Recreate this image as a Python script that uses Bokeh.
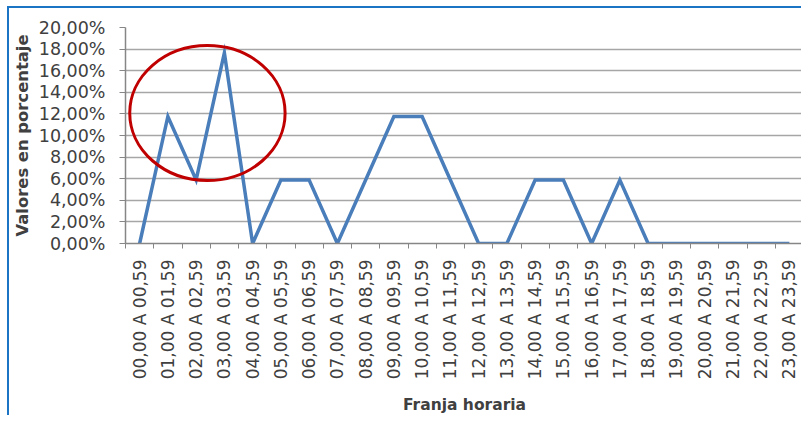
import math
from bokeh.plotting import figure
from bokeh.models import FixedTicker, Range1d
from bokeh.embed import file_html
from bokeh.resources import INLINE

categories = ["00,00 A 00,59", "01,00 A 01,59", "02,00 A 02,59", "03,00 A 03,59",
              "04,00 A 04,59", "05,00 A 05,59", "06,00 A 06,59", "07,00 A 07,59",
              "08,00 A 08,59", "09,00 A 09,59", "10,00 A 10,59", "11,00 A 11,59",
              "12,00 A 12,59", "13,00 A 13,59", "14,00 A 14,59", "15,00 A 15,59",
              "16,00 A 16,59", "17,00 A 17,59", "18,00 A 18,59", "19,00 A 19,59",
              "20,00 A 20,59", "21,00 A 21,59", "22,00 A 22,59", "23,00 A 23,59"]
values = [0.0, 0.1176, 0.0588, 0.1765, 0.0, 0.0588, 0.0588, 0.0, 0.0588, 0.1176,
          0.1176, 0.0588, 0.0, 0.0, 0.0588, 0.0588, 0.0, 0.0588, 0.0, 0.0, 0.0,
          0.0, 0.0, 0.0]
y_ticks = [0.0, 0.02, 0.04, 0.06, 0.08, 0.10, 0.12, 0.14, 0.16, 0.18, 0.20]
y_tick_labels = ["0,00%", "2,00%", "4,00%", "6,00%", "8,00%", "10,00%", "12,00%",
                 "14,00%", "16,00%", "18,00%", "20,00%"]
# highlight ellipse (around hours 01-03)
ellipse_x = [2.4]
ellipse_y = [0.1208]
ellipse_w = [5.5]
ellipse_h = [0.125]

xs = list(range(len(categories)))
FONT = "DejaVu Sans"
TEXT = "#404040"
BORDER = "#1B75C4"

p = figure(width=794, height=409, output_backend="svg", toolbar_location=None,
           x_range=Range1d(-0.5, len(categories) - 0.5), y_range=Range1d(0, 0.20),
           min_border_left=115, min_border_right=0, min_border_top=19,
           min_border_bottom=172)
p.styles = {"border-left": f"2px solid {BORDER}", "border-top": f"2px solid {BORDER}",
            "margin-left": "7px", "margin-top": "6px"}
p.outline_line_color = None
p.background_fill_color = "white"
p.border_fill_color = "white"

p.line(xs, values, line_color="#4A7EBB", line_width=3.5, line_join="miter")
p.ellipse(x=ellipse_x, y=ellipse_y, width=ellipse_w, height=ellipse_h,
          fill_color=None, line_color="#C00000", line_width=3)

# x axis
xa = p.xaxis[0]
xa.ticker = FixedTicker(ticks=xs, minor_ticks=[i - 0.5 for i in range(len(categories) + 1)])
xa.major_label_overrides = {i: c for i, c in enumerate(categories)}
xa.major_label_orientation = math.pi / 2
xa.major_tick_line_color = None
xa.minor_tick_line_color = "#868686"
xa.minor_tick_in = 0
xa.minor_tick_out = 5
xa.axis_line_color = "#868686"
xa.axis_line_width = 1.5
xa.major_label_standoff = 10
xa.major_label_text_font = FONT
xa.major_label_text_font_size = "17px"
xa.major_label_text_color = TEXT
xa.axis_label = "Franja horaria"
xa.axis_label_text_font = FONT
xa.axis_label_text_font_size = "15.5px"
xa.axis_label_text_font_style = "bold"
xa.axis_label_text_color = TEXT
xa.axis_label_standoff = 14

# y axis
ya = p.yaxis[0]
ya.ticker = FixedTicker(ticks=y_ticks)
ya.major_label_overrides = {t: l for t, l in zip(y_ticks, y_tick_labels)}
ya.minor_tick_line_color = None
ya.major_tick_line_color = "#868686"
ya.major_tick_in = 0
ya.major_tick_out = 6
ya.axis_line_color = "#868686"
ya.axis_line_width = 1.5
ya.major_label_standoff = 14
ya.major_label_text_font = FONT
ya.major_label_text_font_size = "17.5px"
ya.major_label_text_color = TEXT
ya.axis_label = "Valores en porcentaje"
ya.axis_label_text_font = FONT
ya.axis_label_text_font_size = "16.4px"
ya.axis_label_text_font_style = "bold"
ya.axis_label_text_color = TEXT
ya.axis_label_standoff = 4

p.xgrid.grid_line_color = None
p.ygrid.grid_line_color = "#A6A6A6"
p.ygrid.grid_line_width = 1.5
p.ygrid.ticker = FixedTicker(ticks=y_ticks)

open("out.html", "w").write(file_html(p, INLINE))
